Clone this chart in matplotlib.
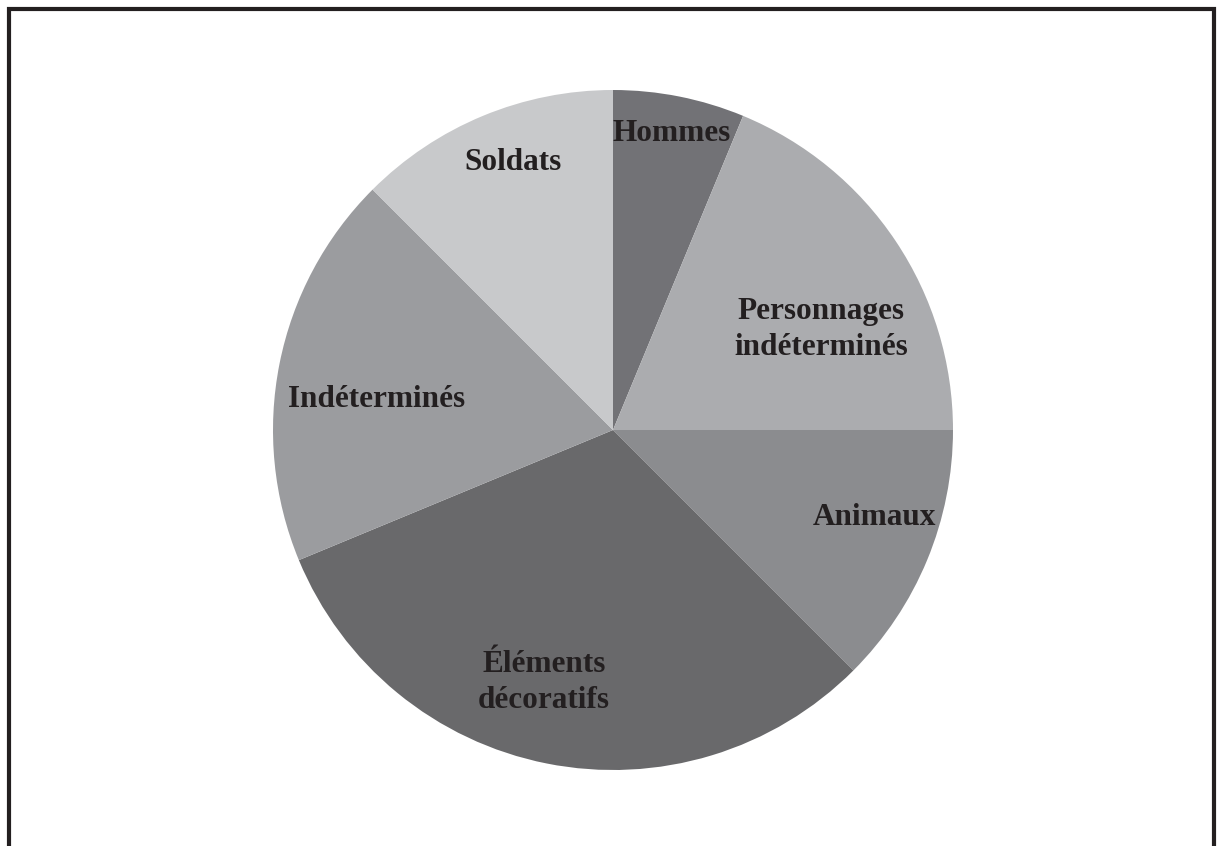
import math
import matplotlib.pyplot as plt

labels = ["Hommes", "Personnages\nindéterminés", "Animaux",
          "Éléments\ndécoratifs", "Indéterminés", "Soldats"]
values = [1, 3, 2, 5, 3, 2]
colors = ["#727276", "#abacaf", "#8b8c8f", "#69696b", "#9b9c9f", "#c8c9cb"]

# label placement: fraction of radius and small angle tweak (degrees)
label_dist = [0.89, 0.68, 0.81, 0.77, 0.70, 0.84]
label_shift = [0, -8, 4, -4, 4, -2]

W, H = 1218, 846
cx, cy, R = 613, H - 430, 340

fig = plt.figure(figsize=(W / 100, H / 100), dpi=100)
ax = fig.add_axes([0, 0, 1, 1])
ax.set_aspect("equal")
ax.axis("off")

wedges, _ = ax.pie(values, colors=colors, startangle=90, counterclock=False,
                   center=(cx, cy), radius=R, wedgeprops=dict(linewidth=0))
ax.set_xlim(0, W)
ax.set_ylim(0, H)

for w, lab, d, s in zip(wedges, labels, label_dist, label_shift):
    mid = math.radians((w.theta1 + w.theta2) / 2 + s)
    x = cx + d * R * math.cos(mid)
    y = cy + d * R * math.sin(mid)
    ax.text(x, y, lab, ha="center", va="center", fontsize=22.5,
            fontweight="bold", family="Liberation Serif", color="#231f20",
            linespacing=1.32)

# frame (open at the bottom)
ax.plot([9, 9, 1214, 1214], [0, H - 9, H - 9, 0], color="#231f20",
        linewidth=3, solid_joinstyle="miter", clip_on=False)

fig.savefig("out.png", dpi=100, facecolor="white")
